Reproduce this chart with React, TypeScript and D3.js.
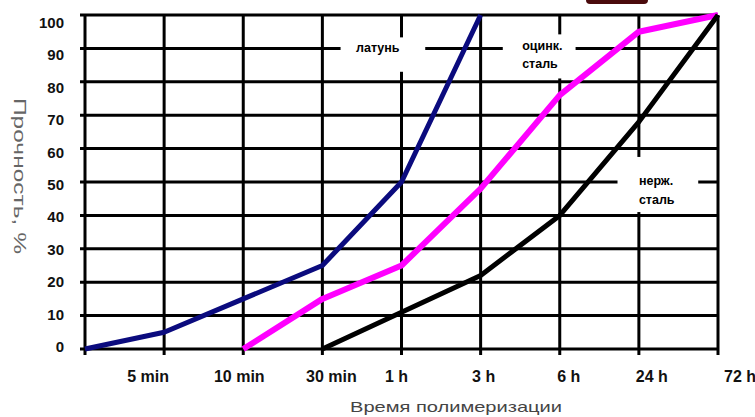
import React from "react";
import * as d3 from "d3";

const categories = ["", "5 min", "10 min", "30 min", "1 h", "3 h", "6 h", "24 h", "72 h"];
const yTicks = [0, 10, 20, 30, 40, 50, 60, 70, 80, 90, 100];

// [category index, strength %]
const brass: [number, number][] = [[0, 0], [1, 5], [2, 15], [3, 25], [4, 50], [5, 100]];
const galvanized: [number, number][] = [[2, 0], [3, 15], [4, 25], [5, 48], [6, 76], [7, 95], [8, 100]];
const stainless: [number, number][] = [[3, 0], [4, 11], [5, 22], [6, 40], [7, 68], [8, 100]];

const seriesNames = ["латунь", "оцинк. сталь", "нерж. сталь"];

const W = 755;
const H = 417;

// horizontal nudges of the category labels (layout only)
const labelNudge = [0, -16, -4, 9, -5, 3, 9, 13, 22];

export default function App() {
  const x = d3.scaleLinear().domain([0, categories.length - 1]).range([85, 718]);
  const y = d3.scaleLinear().domain([0, 100]).range([349, 15]);
  const yLab = d3.scaleLinear().domain([0, 100]).range([348, 24]);
  const line = d3
    .line<[number, number]>()
    .x((d) => x(d[0]))
    .y((d) => y(d[1]));

  const font = "'Liberation Sans', Arial, sans-serif";

  const boxes = [
    { x0: x(3.23), x1: x(4.3), y0: y(93.3), y1: y(83) },
    { x0: x(5.28), x1: x(6.2), y0: y(94.2), y1: y(81) },
    { x0: x(6.73), x1: x(7.75), y0: y(57.5), y1: y(41) },
  ];

  return (
    <div style={{ position: "fixed", left: 0, top: 0 }}>
      <svg width={W} height={H} style={{ display: "block", background: "#fff" }}>
        <rect x={586} y={-6} width={62} height={10} rx={4} fill="#4a0a0c" />
        <g stroke="#000" strokeWidth={3}>
          {yTicks.map((t) => (
            <line key={"h" + t} x1={80} x2={x(categories.length - 1)} y1={y(t)} y2={y(t)} />
          ))}
          {categories.map((_, i) => (
            <line key={"v" + i} x1={x(i)} x2={x(i)} y1={y(100)} y2={355} />
          ))}
        </g>
        {boxes.map((b, i) => (
          <rect key={i} x={b.x0} y={b.y0} width={b.x1 - b.x0} height={b.y1 - b.y0} fill="#fff" />
        ))}
        <g fontFamily={font} fontWeight="bold" fontSize={15} fill="#111" textAnchor="end">
          {yTicks.map((t) => (
            <text key={t} x={64} y={yLab(t)} dominantBaseline="middle">
              {t}
            </text>
          ))}
        </g>
        <g fontFamily={font} fontWeight="bold" fontSize={16} fill="#111" textAnchor="middle">
          {categories.map((c, i) => (
            <text key={i} x={x(i) + labelNudge[i]} y={382}>
              {c}
            </text>
          ))}
        </g>
        <path d={line(brass) || ""} fill="none" stroke="#0b0b7e" strokeWidth={5} strokeLinejoin="round" />
        <path d={line(galvanized) || ""} fill="none" stroke="#ff00ff" strokeWidth={6} strokeLinejoin="round" />
        <path d={line(stainless) || ""} fill="none" stroke="#000" strokeWidth={5} strokeLinejoin="round" />
        <g fontFamily={font} fontWeight="bold" fontSize={12.5} fill="#000">
          <text x={x(3.7)} y={y(89)} textAnchor="middle">{seriesNames[0]}</text>
          <text x={x(5.78)} y={y(89.5)} textAnchor="middle">{seriesNames[1].split(" ")[0]}</text>
          <text x={x(5.75)} y={y(84)} textAnchor="middle">{seriesNames[1].split(" ")[1]}</text>
          <text x={x(7)} y={y(49)}>{seriesNames[2].split(" ")[0]}</text>
          <text x={x(7)} y={y(43.5)}>{seriesNames[2].split(" ")[1]}</text>
        </g>
        <text
          transform={`translate(14,176) rotate(90)`}
          textAnchor="middle"
          fontFamily={font}
          fontSize={17}
          fill="#666"
          textLength={156}
          lengthAdjust="spacingAndGlyphs"
        >
          Прочность, %
        </text>
        <text
          x={456}
          y={412}
          textAnchor="middle"
          fontFamily={font}
          fontSize={15}
          fill="#444"
          textLength={212}
          lengthAdjust="spacingAndGlyphs"
        >
          Время полимеризации
        </text>
      </svg>
    </div>
  );
}
